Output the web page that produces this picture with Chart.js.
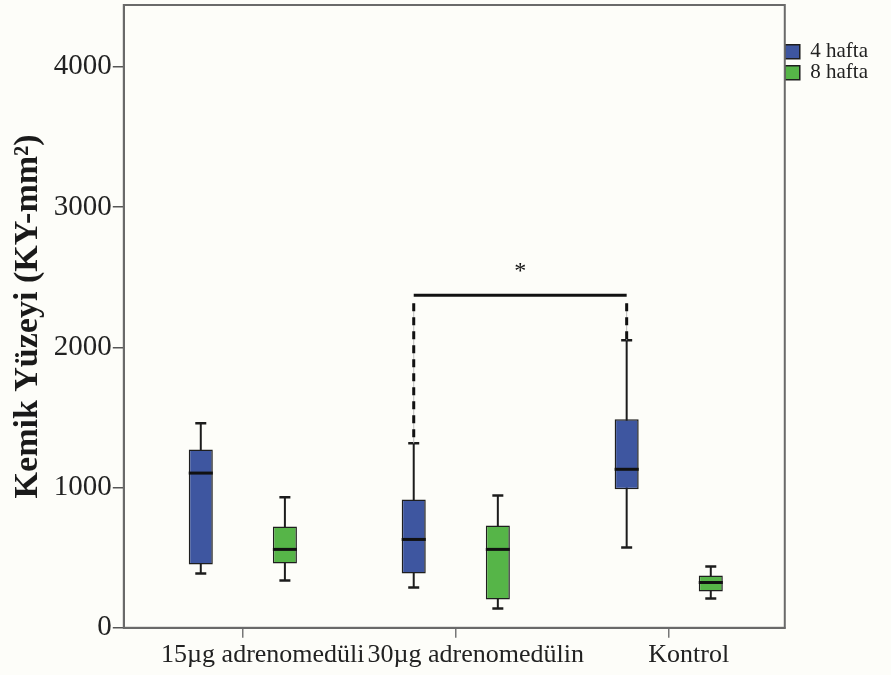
<!DOCTYPE html>
<html>
<head>
<meta charset="utf-8">
<script src="https://cdn.jsdelivr.net/npm/chart.js@4.4.1/dist/chart.umd.min.js"></script>
<style>
  html, body { margin: 0; padding: 0; background: #fdfdf9; }
  #wrap { width: 891px; height: 675px; }
</style>
</head>
<body>
<div id="wrap"><canvas id="chart" width="891" height="675"></canvas></div>
<script>
const groups = ["15µg adrenomedüli", "30µg adrenomedülin", "Kontrol"];
const seriesNames = ["4 hafta", "8 hafta"];

// box plot values, one entry per group
const week4Min = [387, 288, 573];
const week4Q1 = [452, 387, 987];
const week4Median = [1103, 630, 1130];
const week4Q3 = [1272, 915, 1486];
const week4Max = [1458, 1315, 2050];

const week8Min = [338, 138, 209];
const week8Q1 = [459, 202, 259];
const week8Median = [559, 559, 323];
const week8Q3 = [723, 730, 373];
const week8Max = [930, 944, 437];

const yTicks = [0, 1000, 2000, 3000, 4000];

// significance bracket between the 4 hafta boxes of these groups
const sigGroups = [1, 2];
const sigLevel = 2370;
const sigLabel = "*";

const serif = "'Liberation Serif', 'Times New Roman', serif";

function boxes(q1, q3) {
    return groups.map((g, i) => ({ x: i, y: [q1[i], q3[i]] }));
}

const boxParts = {
    id: "boxParts",
    beforeDatasetsDraw(chart) {
        const ctx = chart.ctx;
        const y = chart.scales.y;
        chart.data.datasets.forEach((ds, di) => {
            chart.getDatasetMeta(di).data.forEach((bar, i) => {
                const top = y.getPixelForValue(ds.whiskerMax[i]);
                const bottom = y.getPixelForValue(ds.whiskerMin[i]);
                ctx.save();
                ctx.strokeStyle = "#1c1c1c";
                ctx.lineWidth = 2;
                ctx.beginPath();
                ctx.moveTo(bar.x, top);
                ctx.lineTo(bar.x, bottom);
                ctx.stroke();
                ctx.lineWidth = 2.5;
                ctx.beginPath();
                ctx.moveTo(bar.x - 5.5, top);
                ctx.lineTo(bar.x + 5.5, top);
                ctx.moveTo(bar.x - 5.5, bottom);
                ctx.lineTo(bar.x + 5.5, bottom);
                ctx.stroke();
                ctx.restore();
            });
        });
    },
    afterDatasetsDraw(chart) {
        const ctx = chart.ctx;
        const y = chart.scales.y;
        const area = chart.chartArea;

        // medians
        chart.data.datasets.forEach((ds, di) => {
            chart.getDatasetMeta(di).data.forEach((bar, i) => {
                const my = y.getPixelForValue(ds.median[i]);
                ctx.save();
                ctx.strokeStyle = "#111";
                ctx.lineWidth = 3;
                ctx.beginPath();
                ctx.moveTo(bar.x - bar.width / 2, my);
                ctx.lineTo(bar.x + bar.width / 2, my);
                ctx.stroke();
                ctx.restore();
            });
        });

        // significance bracket
        const meta = chart.getDatasetMeta(0);
        const x1 = meta.data[sigGroups[0]].x;
        const x2 = meta.data[sigGroups[1]].x;
        const yb = y.getPixelForValue(sigLevel);
        ctx.save();
        ctx.strokeStyle = "#111";
        ctx.lineWidth = 3;
        ctx.beginPath();
        ctx.moveTo(x1, yb);
        ctx.lineTo(x2, yb);
        ctx.stroke();
        [[x1, week4Max[sigGroups[0]]], [x2, week4Max[sigGroups[1]]]].forEach(([x, v]) => {
            const end = y.getPixelForValue(v);
            ctx.strokeStyle = "#bbb";
            ctx.lineWidth = 1;
            ctx.setLineDash([]);
            ctx.beginPath();
            ctx.moveTo(x, yb + 8);
            ctx.lineTo(x, end);
            ctx.stroke();
            ctx.strokeStyle = "#111";
            ctx.lineWidth = 3;
            ctx.setLineDash([8, 6]);
            ctx.beginPath();
            ctx.moveTo(x, yb + 8);
            ctx.lineTo(x, end);
            ctx.stroke();
        });
        ctx.setLineDash([]);
        ctx.fillStyle = "#111";
        ctx.font = "24px " + serif;
        ctx.textAlign = "center";
        ctx.textBaseline = "middle";
        ctx.fillText(sigLabel, (x1 + x2) / 2, yb - 24);

        // frame around plot area
        ctx.strokeStyle = "#6a6a6a";
        ctx.lineWidth = 2;
        ctx.strokeRect(area.left, area.top, area.right - area.left, area.bottom - area.top);
        ctx.restore();
    }
};

const bg = {
    id: "bg",
    beforeDraw(chart) {
        const ctx = chart.ctx;
        ctx.save();
        ctx.fillStyle = "#fdfdf9";
        ctx.fillRect(0, 0, chart.width, chart.height);
        ctx.restore();
    }
};

new Chart(document.getElementById("chart").getContext("2d"), {
    type: "bar",
    data: {
        datasets: [
            {
                label: seriesNames[0],
                data: boxes(week4Q1, week4Q3),
                whiskerMin: week4Min,
                whiskerMax: week4Max,
                median: week4Median,
                backgroundColor: "#3e56a0",
                borderColor: "#1e1e1e",
                borderWidth: 1.5,
                borderSkipped: false,
                categoryPercentage: 0.79,
                barPercentage: 0.286
            },
            {
                label: seriesNames[1],
                data: boxes(week8Q1, week8Q3),
                whiskerMin: week8Min,
                whiskerMax: week8Max,
                median: week8Median,
                backgroundColor: "#56b548",
                borderColor: "#1e1e1e",
                borderWidth: 1.5,
                borderSkipped: false,
                categoryPercentage: 0.79,
                barPercentage: 0.286
            }
        ]
    },
    options: {
        responsive: false,
        animation: false,
        layout: { padding: { left: 8, right: 13, top: 5, bottom: 2 } },
        plugins: {
            legend: {
                position: "right",
                align: "start",
                title: { display: true, text: "", padding: { top: 35, bottom: 0 }, font: { size: 1 } },
                labels: {
                    boxWidth: 15,
                    boxHeight: 14,
                    padding: 0,
                    color: "#222",
                    font: { family: serif, size: 21 }
                }
            },
            tooltip: { enabled: false }
        },
        scales: {
            x: {
                type: "linear",
                offset: false,
                min: -0.559,
                max: 2.545,
                afterBuildTicks: (s) => { s.ticks = groups.map((g, i) => ({ value: i })); },
                ticks: {
                    callback: (v) => groups[v],
                    autoSkip: false,
                    maxRotation: 0,
                    labelOffset: 20,
                    padding: 2,
                    color: "#222",
                    font: { family: serif, size: 26 }
                },
                grid: { offset: false, drawOnChartArea: false, tickLength: 10, color: "#777", lineWidth: 1.5 },
                border: { color: "#6a6a6a", width: 2 }
            },
            y: {
                min: 0,
                max: 4440,
                afterBuildTicks: (s) => { s.ticks = yTicks.map((v) => ({ value: v })); },
                afterFit: (s) => { s.paddingTop = 0; },
                ticks: {
                    callback: (v) => String(v),
                    padding: 1,
                    color: "#222",
                    font: { family: serif, size: 29 }
                },
                grid: { drawOnChartArea: false, tickLength: 11, color: "#555", lineWidth: 1.5 },
                border: { color: "#6a6a6a", width: 2 },
                title: {
                    display: true,
                    text: "Kemik Yüzeyi (KY-mm²)",
                    color: "#1a1a1a",
                    font: { family: serif, size: 34, weight: "bold" },
                    padding: { top: 0, bottom: 4 }
                }
            }
        }
    },
    plugins: [bg, boxParts]
});
</script>
</body>
</html>
